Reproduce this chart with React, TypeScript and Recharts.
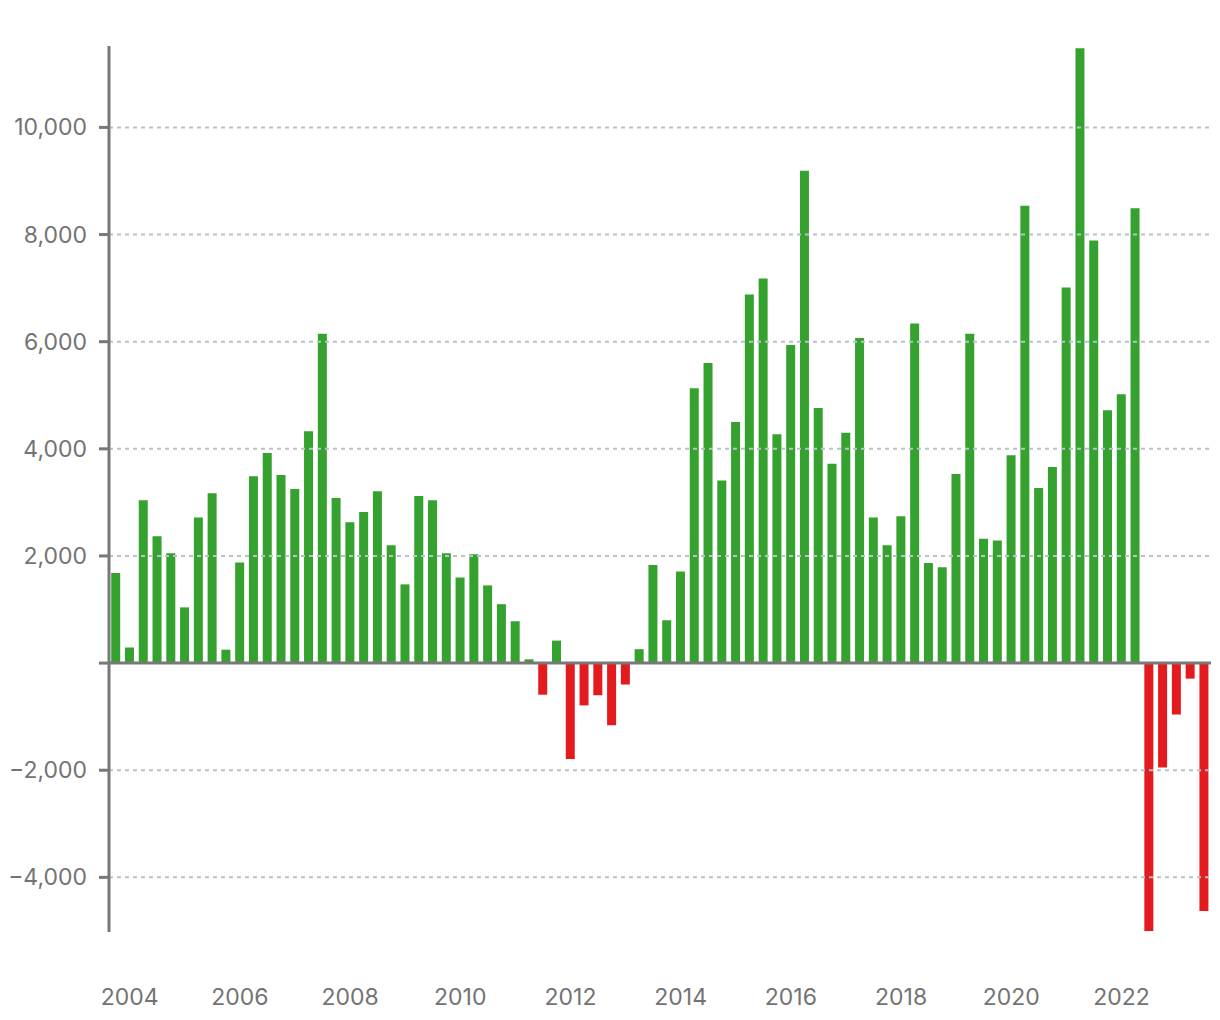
import React from "react";
import { BarChart, Bar, XAxis, YAxis, ReferenceLine, Cell } from "recharts";

const quarters: string[] = [
  "2003 Q4",
  "2004 Q1", "2004 Q2", "2004 Q3", "2004 Q4",
  "2005 Q1", "2005 Q2", "2005 Q3", "2005 Q4",
  "2006 Q1", "2006 Q2", "2006 Q3", "2006 Q4",
  "2007 Q1", "2007 Q2", "2007 Q3", "2007 Q4",
  "2008 Q1", "2008 Q2", "2008 Q3", "2008 Q4",
  "2009 Q1", "2009 Q2", "2009 Q3", "2009 Q4",
  "2010 Q1", "2010 Q2", "2010 Q3", "2010 Q4",
  "2011 Q1", "2011 Q2", "2011 Q3", "2011 Q4",
  "2012 Q1", "2012 Q2", "2012 Q3", "2012 Q4",
  "2013 Q1", "2013 Q2", "2013 Q3", "2013 Q4",
  "2014 Q1", "2014 Q2", "2014 Q3", "2014 Q4",
  "2015 Q1", "2015 Q2", "2015 Q3", "2015 Q4",
  "2016 Q1", "2016 Q2", "2016 Q3", "2016 Q4",
  "2017 Q1", "2017 Q2", "2017 Q3", "2017 Q4",
  "2018 Q1", "2018 Q2", "2018 Q3", "2018 Q4",
  "2019 Q1", "2019 Q2", "2019 Q3", "2019 Q4",
  "2020 Q1", "2020 Q2", "2020 Q3", "2020 Q4",
  "2021 Q1", "2021 Q2", "2021 Q3", "2021 Q4",
  "2022 Q1", "2022 Q2", "2022 Q3", "2022 Q4",
  "2023 Q1", "2023 Q2", "2023 Q3",
];

const values: number[] = [
  1680,
  290, 3040, 2370, 2050,
  1040, 2720, 3170, 250,
  1880, 3490, 3920, 3510,
  3250, 4330, 6150, 3080,
  2630, 2820, 3210, 2200,
  1470, 3120, 3040, 2050,
  1600, 2030, 1450, 1100,
  780, 70, -590, 420,
  -1790, -790, -600, -1160,
  -400, 260, 1830, 800,
  1710, 5130, 5600, 3410,
  4500, 6880, 7180, 4270,
  5940, 9190, 4760, 3720,
  4300, 6070, 2720, 2200,
  2740, 6340, 1870, 1790,
  3530, 6150, 2320, 2290,
  3880, 8540, 3270, 3660,
  7010, 11480, 7890, 4720,
  5020, 8490, -5000, -1950,
  -960, -290, -4630,
];

const yearTickLabels: string[] = ["2004", "2006", "2008", "2010", "2012", "2014", "2016", "2018", "2020", "2022"];
const yTicks: number[] = [-4000, -2000, 0, 2000, 4000, 6000, 8000, 10000];
const gridValues: number[] = [-4000, -2000, 2000, 4000, 6000, 8000, 10000];
const yDomain: number[] = [-5020, 11520];

const data = quarters.map((q, i) => ({ quarter: q, value: values[i] }));

const GREEN = "#35a12e";
const RED = "#e31b1e";
const AXIS = "#787878";
const GRID = "#b9c2c7";
const TEXT = "#737373";
const FONT = "Inter, 'Open Sans', sans-serif";

const XTick = (props: any) => {
  const { x, y, payload } = props;
  const [yr, q] = String(payload.value).split(" ");
  if (q !== "Q1" || !yearTickLabels.includes(yr)) return <g />;
  return (
    <text x={x} y={y + 73} textAnchor="middle" fill={TEXT} fontSize={23} fontFamily={FONT}>
      {yr}
    </text>
  );
};

const YTick = (props: any) => {
  const { x, y, payload } = props;
  const v = Number(payload.value);
  if (v === 0) return <g />;
  const s = (v < 0 ? "\u2212" : "") + Math.abs(v).toLocaleString("en-US");
  return (
    <text x={x} y={y + 8} textAnchor="end" fill={TEXT} fontSize={23} fontFamily={FONT}>
      {s}
    </text>
  );
};

export default function App() {
  return (
    <div style={{ position: "absolute", left: 0, top: 0, width: 1220, height: 1020, background: "#fff" }}>
      <BarChart width={1220} height={1020} data={data} margin={{ top: 46, right: 9, bottom: 0, left: 0 }} barCategoryGap="16%">
        <XAxis
          dataKey="quarter"
          interval={0}
          height={88}
          axisLine={false}
          tickLine={false}
          tickSize={0}
          tickMargin={0}
          tick={<XTick />}
        />
        <YAxis
          width={109}
          domain={yDomain}
          ticks={yTicks}
          axisLine={{ stroke: AXIS, strokeWidth: 3 }}
          tickLine={{ stroke: AXIS, strokeWidth: 3 }}
          tickSize={10}
          tickMargin={12}
          tick={<YTick />}
        />
        {gridValues.map((g) => (
          <ReferenceLine key={g} y={g} stroke={GRID} strokeWidth={2} strokeDasharray="4 4" />
        ))}
        <Bar dataKey="value" isAnimationActive={false}>
          {data.map((d, i) => (
            <Cell key={i} fill={d.value < 0 ? RED : GREEN} />
          ))}
        </Bar>
        <ReferenceLine y={0} stroke={AXIS} strokeWidth={3} />
      </BarChart>
    </div>
  );
}
